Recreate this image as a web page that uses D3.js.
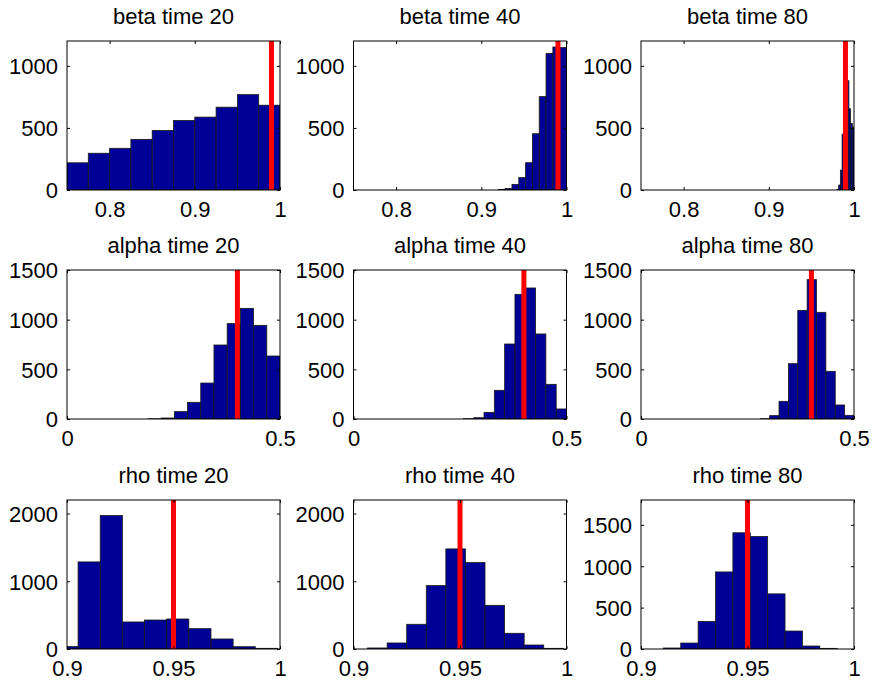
<!DOCTYPE html>
<html>
<head>
<meta charset="utf-8">
<script src="https://cdn.jsdelivr.net/npm/d3@7/dist/d3.min.js"></script>
<style>
  html, body { margin: 0; padding: 0; background: #fff; }
  svg { display: block; font-family: "Liberation Sans", Arial, Helvetica, sans-serif; }
</style>
</head>
<body>
<svg id="chart" width="874" height="684"></svg>
<script>
// ---------------- data ----------------
const titles = ["beta time 20", "beta time 40", "beta time 80",
                "alpha time 20", "alpha time 40", "alpha time 80",
                "rho time 20", "rho time 40", "rho time 80"];

const betaCounts20  = [219, 296, 336, 408, 480, 560, 587, 667, 768, 683];
const betaCounts40  = [5, 13, 45, 100, 220, 453, 752, 1100, 1152, 1147];
const betaCounts80  = [5, 40, 160, 450, 900, 870, 880, 655, 535, 505];
const alphaCounts20 = [2, 10, 74, 168, 362, 745, 960, 1114, 943, 634];
const alphaCounts40 = [3, 13, 67, 289, 755, 1255, 1319, 856, 349, 101];
const alphaCounts80 = [3, 34, 178, 557, 1094, 1403, 1074, 480, 141, 37];
const rhoCounts20   = [35, 1286, 1970, 399, 428, 443, 300, 148, 34, 10];
const rhoCounts40   = [15, 89, 365, 936, 1478, 1276, 645, 232, 59, 10];
const rhoCounts80   = [12, 72, 333, 931, 1404, 1360, 666, 217, 36, 8];

const binStarts = [0.75, 0.92, 0.98, 0.19, 0.258, 0.28, 0.8948, 0.9066, 0.9105];
const binWidths = [0.025, 0.008, 0.002, 0.031, 0.0242, 0.022, 0.0104, 0.00919, 0.00816];
const trueValues = [0.99, 0.99, 0.99, 0.4, 0.4, 0.4, 0.95, 0.95, 0.95];

const xDomainBeta  = [0.75, 1];
const xDomainAlpha = [0, 0.5];
const xDomainRho   = [0.9, 1];
const yMaxes = [1200, 1200, 1200, 1500, 1500, 1500, 2200, 2200, 1800];

const xTicksBeta  = [0.8, 0.9, 1];
const xTicksAlpha = [0, 0.5];
const xTicksRho   = [0.9, 0.95, 1];
const xTickLabelsBeta  = ["0.8", "0.9", "1"];
const xTickLabelsAlpha = ["0", "0.5"];
const xTickLabelsRho   = ["0.9", "0.95", "1"];

const yTicksBeta  = [0, 500, 1000];
const yTicksAlpha = [0, 500, 1000, 1500];
const yTicksRho   = [0, 1000, 2000];
const yTicksRho80 = [0, 500, 1000, 1500];

// ---------------- layout ----------------
const colLeft = [67, 353.5, 641];
const rowTop = [41, 270, 500];
const plotW = 213;
const plotH = 149;
const fontSize = 22;
const tickLen = 3;

const counts = [betaCounts20, betaCounts40, betaCounts80,
                alphaCounts20, alphaCounts40, alphaCounts80,
                rhoCounts20, rhoCounts40, rhoCounts80];
const xDomains = [xDomainBeta, xDomainAlpha, xDomainRho];
const xTickSets = [xTicksBeta, xTicksAlpha, xTicksRho];
const xTickLabelSets = [xTickLabelsBeta, xTickLabelsAlpha, xTickLabelsRho];
const yTickSets = [yTicksBeta, yTicksBeta, yTicksBeta,
                   yTicksAlpha, yTicksAlpha, yTicksAlpha,
                   yTicksRho, yTicksRho, yTicksRho80];

const svg = d3.select("#chart");

titles.forEach((title, i) => {
  const r = Math.floor(i / 3), c = i % 3;
  const g = svg.append("g").attr("transform", `translate(${colLeft[c]},${rowTop[r]})`);

  const x = d3.scaleLinear().domain(xDomains[r]).range([0, plotW]);
  const y = d3.scaleLinear().domain([0, yMaxes[i]]).range([plotH, 0]);

  const clipId = "clip" + i;
  g.append("clipPath").attr("id", clipId)
    .append("rect").attr("x", 0).attr("y", 0).attr("width", plotW).attr("height", plotH);

  const bins = counts[i].map((v, k) => ({
    x0: binStarts[i] + k * binWidths[i],
    x1: binStarts[i] + (k + 1) * binWidths[i],
    v: v
  }));

  const plot = g.append("g").attr("clip-path", `url(#${clipId})`);
  plot.selectAll("rect.bar").data(bins).enter().append("rect")
    .attr("class", "bar")
    .attr("x", d => x(d.x0))
    .attr("width", d => x(d.x1) - x(d.x0))
    .attr("y", d => y(d.v))
    .attr("height", d => y(0) - y(d.v))
    .attr("fill", "#000096")
    .attr("stroke", "#1a1a1a")
    .attr("stroke-width", 0.8);

  plot.append("line")
    .attr("x1", x(trueValues[i])).attr("x2", x(trueValues[i]))
    .attr("y1", 0).attr("y2", plotH)
    .attr("stroke", "#ff0000").attr("stroke-width", 5);

  // axes with inward ticks
  const xLabels = xTickLabelSets[r];
  const xt = xTickSets[r];
  const bottomAxis = d3.axisBottom(x).tickValues(xt)
    .tickFormat((d, k) => xLabels[k]).tickSize(-tickLen).tickPadding(11);
  const gb = g.append("g").attr("transform", `translate(0,${plotH})`).call(bottomAxis);
  gb.select(".domain").remove();

  const topAxis = d3.axisTop(x).tickValues(xt).tickFormat("").tickSize(-tickLen);
  const gt = g.append("g").call(topAxis);
  gt.select(".domain").remove();

  const leftAxis = d3.axisLeft(y).tickValues(yTickSets[i])
    .tickFormat(d3.format("d")).tickSize(-tickLen).tickPadding(9);
  const gl = g.append("g").call(leftAxis);
  gl.select(".domain").remove();

  const rightAxis = d3.axisRight(y).tickValues(yTickSets[i]).tickFormat("").tickSize(-tickLen);
  const gr = g.append("g").attr("transform", `translate(${plotW},0)`).call(rightAxis);
  gr.select(".domain").remove();

  [gb, gt, gl, gr].forEach(a => {
    a.selectAll("line").attr("stroke", "#000").attr("stroke-width", 1);
    a.selectAll("text").attr("fill", "#000")
      .style("font-size", fontSize + "px")
      .style("font-family", '"Liberation Sans", Arial, Helvetica, sans-serif');
  });
  gl.selectAll("text").attr("dy", "0.36em");

  g.append("rect")
    .attr("x", 0).attr("y", 0).attr("width", plotW).attr("height", plotH)
    .attr("fill", "none").attr("stroke", "#000").attr("stroke-width", 1);

  g.append("text")
    .attr("x", plotW / 2).attr("y", -17)
    .attr("text-anchor", "middle")
    .attr("fill", "#000")
    .style("font-size", fontSize + "px")
    .text(title);
});
</script>
</body>
</html>
